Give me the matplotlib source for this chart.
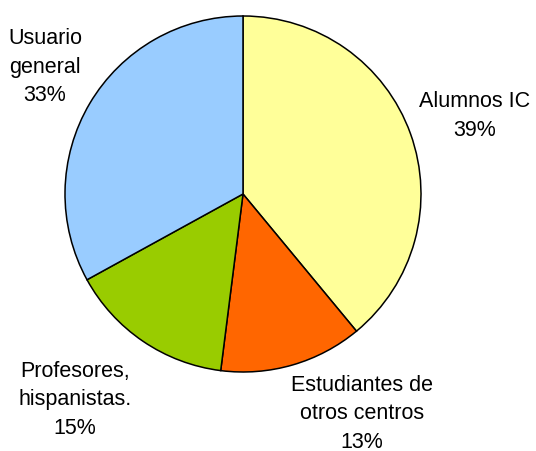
import matplotlib.pyplot as plt

labels = ["Alumnos IC", "Estudiantes de\notros centros", "Profesores,\nhispanistas.", "Usuario\ngeneral"]
shares = [39, 13, 15, 33]
colors = ["#FFFF99", "#FF6600", "#99CC00", "#99CCFF"]

# label anchor points in pixel space (y measured from top)
label_pos = [(475, 116), (362, 414), (75, 400), (45, 67)]

W, H = 536, 452
fig = plt.figure(figsize=(W / 100, H / 100), dpi=100)
ax = fig.add_axes([0, 0, 1, 1])
ax.set_xlim(0, W)
ax.set_ylim(0, H)
ax.set_aspect("equal")
ax.axis("off")

ax.pie(shares, colors=colors, startangle=90, counterclock=False,
       center=(243, H - 195), radius=178,
       wedgeprops=dict(edgecolor="black", linewidth=1.1))

for lab, val, (x, y) in zip(labels, shares, label_pos):
    ax.text(x, H - y, f"{lab}\n{val}%", ha="center", va="center",
            fontsize=15.5, family="Liberation Sans", linespacing=1.45)

ax.set_xlim(0, W)
ax.set_ylim(0, H)
fig.savefig("out.png", dpi=100)
